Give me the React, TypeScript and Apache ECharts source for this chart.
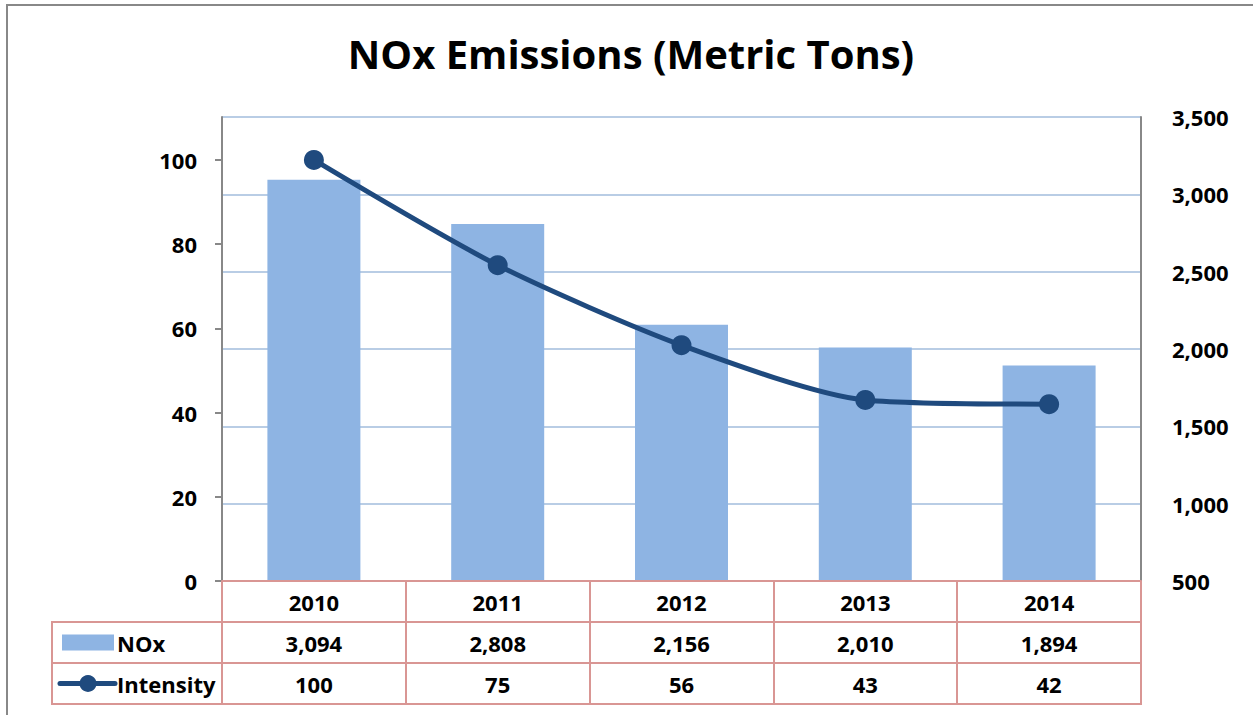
import React, { useEffect, useRef } from "react";
import * as echarts from "echarts";

const years = ["2010", "2011", "2012", "2013", "2014"];
const seriesNames = ["NOx", "Intensity"];
const noxValues = [3094, 2808, 2156, 2010, 1894];
const intensityValues = [100, 75, 56, 43, 42];
const leftTicks = [0, 20, 40, 60, 80, 100];
const rightTicks = [500, 1000, 1500, 2000, 2500, 3000, 3500];

const FONT = "'Open Sans', Lato, sans-serif";
const TITLE_FONT = "'Open Sans', Lato, sans-serif";
const FS = 22;
const GRID_LEFT = 222;
const GRID_RIGHT_X = 1141;
const GRID_TOP = 117;
const GRID_BOTTOM_Y = 581;
const ROW_H = 41;
const TABLE_LEFT = 52;
const BORDER = "#D99694";
const BAR_COLOR = "#8EB4E3";
const LINE_COLOR = "#1F4A7E";

const fmt = (v: number) => v.toLocaleString("en-US");

export default function App() {
  const ref = useRef<HTMLDivElement>(null);
  useEffect(() => {
    if (!ref.current) return;
    const chart = echarts.init(ref.current, null, { renderer: "svg" });
    const W = 1253;
    const H = 715;
    const tableLines: any[] = [];
    for (let r = 1; r <= 3; r++) {
      const y = GRID_BOTTOM_Y + ROW_H * r;
      tableLines.push({
        type: "line",
        shape: { x1: TABLE_LEFT, y1: y, x2: GRID_RIGHT_X + 1, y2: y },
        style: { stroke: BORDER, lineWidth: 2 },
        z: 10,
      });
    }
    tableLines.push({
      type: "line",
      shape: { x1: TABLE_LEFT, y1: GRID_BOTTOM_Y + ROW_H - 1, x2: TABLE_LEFT, y2: GRID_BOTTOM_Y + ROW_H * 3 + 1 },
      style: { stroke: BORDER, lineWidth: 2 },
      z: 10,
    });
    const row1 = GRID_BOTTOM_Y + ROW_H * 1.5;
    const row2 = GRID_BOTTOM_Y + ROW_H * 2.5;
    const legendText = (t: string, y: number) => ({
      type: "text",
      x: 117,
      y,
      style: {
        text: t,
        fontFamily: FONT,
        fontSize: FS,
        fontWeight: "bold",
        fill: "#000",
        verticalAlign: "middle",
        align: "left",
      },
      z: 10,
    });
    const legendItems: any[] = [
      {
        type: "rect",
        shape: { x: 62, y: row1 - 8, width: 52, height: 16 },
        style: { fill: BAR_COLOR },
        z: 10,
      },
      legendText(seriesNames[0], row1),
      {
        type: "line",
        shape: { x1: 60, y1: row2, x2: 115, y2: row2 },
        style: { stroke: LINE_COLOR, lineWidth: 5, lineCap: "round" },
        z: 10,
      },
      {
        type: "circle",
        shape: { cx: 88, cy: row2, r: 8.5 },
        style: { fill: LINE_COLOR },
        z: 11,
      },
      legendText(seriesNames[1], row2),
    ];

    chart.setOption({
      animation: false,
      title: {
        text: "NOx Emissions (Metric Tons)",
        left: 631,
        top: 33,
        textAlign: "center",
        padding: 0,
        textStyle: { fontFamily: TITLE_FONT, fontSize: 40, fontWeight: "bold", color: "#000" },
      },
      grid: {
        left: GRID_LEFT,
        right: W - GRID_RIGHT_X,
        top: GRID_TOP,
        bottom: H - GRID_BOTTOM_Y,
        containLabel: false,
      },
      graphic: [
        {
          type: "rect",
          shape: { x: 7, y: 5, width: 1400, height: 900 },
          style: { fill: "none", stroke: "#888888", lineWidth: 2 },
          silent: true,
        },
        ...tableLines,
        ...legendItems,
      ],
      xAxis: {
        type: "category",
        data: years,
        boundaryGap: true,
        axisLine: { show: true, lineStyle: { color: BORDER, width: 2 } },
        axisTick: { show: true, length: ROW_H * 3, interval: 0, lineStyle: { color: BORDER, width: 2 } },
        axisLabel: {
          margin: 0,
          interval: 0,
          formatter: (value: string, idx: number) =>
            `{a|${value}}\n{a|${fmt(noxValues[idx])}}\n{a|${intensityValues[idx]}}`,
          rich: {
            a: { fontFamily: FONT, fontSize: FS, fontWeight: "bold", color: "#000", lineHeight: ROW_H, align: "center" },
          },
        },
        splitLine: { show: false },
        z: 5,
      },
      yAxis: [
        {
          type: "value",
          position: "left",
          min: leftTicks[0],
          max: 110.2,
          interval: 20,
          axisLabel: {
            showMaxLabel: false,
            margin: 25,
            fontFamily: FONT,
            fontSize: FS,
            fontWeight: "bold",
            color: "#000",
          },
          axisLine: { show: true, lineStyle: { color: "#888888", width: 2 } },
          axisTick: { show: true, length: 7, lineStyle: { color: "#888888", width: 2 } },
          splitLine: { show: false },
        },
        {
          type: "value",
          position: "right",
          min: rightTicks[0],
          max: rightTicks[rightTicks.length - 1],
          interval: 500,
          axisLabel: {
            margin: 31,
            fontFamily: FONT,
            fontSize: FS,
            fontWeight: "bold",
            color: "#000",
            formatter: (v: number) => fmt(v),
          },
          axisLine: { show: true, lineStyle: { color: "#888888", width: 2 } },
          axisTick: { show: false },
          splitLine: { show: true, lineStyle: { color: "#B9CDE5", width: 2 } },
        },
      ],
      series: [
        {
          name: seriesNames[0],
          type: "bar",
          yAxisIndex: 1,
          data: noxValues,
          barWidth: 93,
          itemStyle: { color: BAR_COLOR },
        },
        {
          name: seriesNames[1],
          type: "line",
          yAxisIndex: 0,
          data: intensityValues,
          smooth: 0.25,
          symbol: "circle",
          symbolSize: 20,
          lineStyle: { color: LINE_COLOR, width: 5 },
          itemStyle: { color: LINE_COLOR },
          z: 8,
        },
      ],
    });
    return () => chart.dispose();
  }, []);
  return (
    <div
      ref={ref}
      style={{ position: "absolute", left: 0, top: 0, width: 1253, height: 715, background: "#fff" }}
    />
  );
}
